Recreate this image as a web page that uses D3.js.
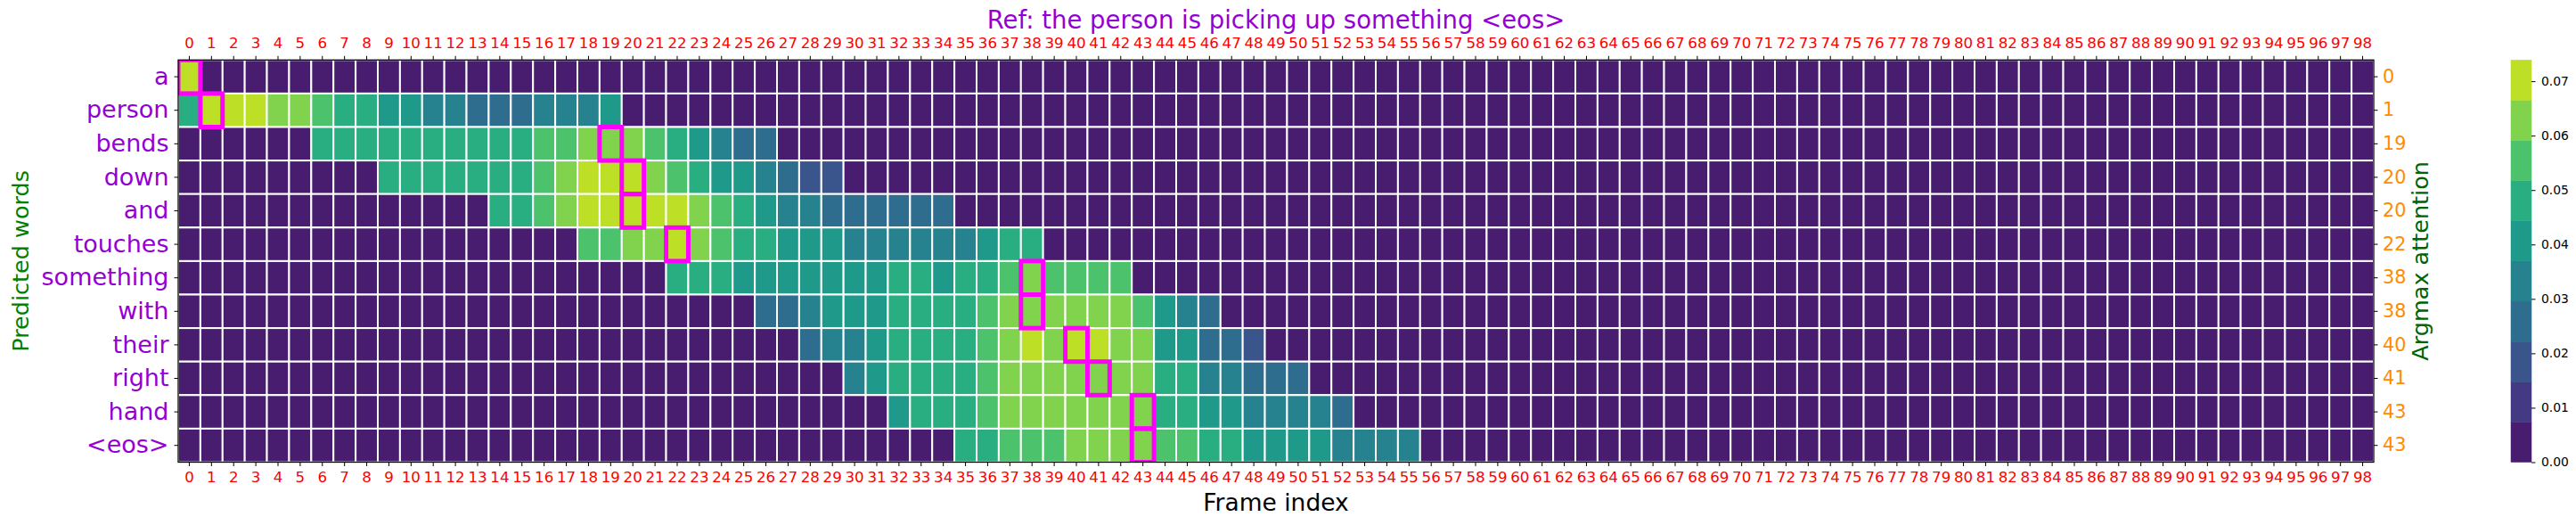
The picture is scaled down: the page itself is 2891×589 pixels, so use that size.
<!DOCTYPE html>
<html>
<head>
<meta charset="utf-8">
<script src="https://cdn.jsdelivr.net/npm/d3@7"></script>
<style>
  body { margin: 0; background: #fff; }
  svg { display: block; font-family: 'DejaVu Sans', sans-serif; }
</style>
</head>
<body>
<svg id="attention"></svg>
<script>
// values
const titleText = 'Ref: the person is picking up something <eos>';
const words = ['a', 'person', 'bends', 'down', 'and', 'touches', 'something', 'with', 'their', 'right', 'hand', '<eos>'];
const argmaxFrames = [0, 1, 19, 20, 20, 22, 38, 38, 40, 41, 43, 43];
const frames = d3.range(99);
// first frame of the visible attention band for each word, then the band values
const bandStart = [0, 0, 6, 9, 14, 18, 22, 26, 28, 30, 32, 35];
const attnA = [0.070];
const attnPerson = [0.048, 0.071, 0.070, 0.068, 0.062, 0.060, 0.054, 0.048, 0.046, 0.041, 0.039, 0.034, 0.032, 0.027, 0.025, 0.026, 0.031, 0.033, 0.034, 0.038];
const attnBends = [0.045, 0.046, 0.047, 0.047, 0.048, 0.048, 0.049, 0.049, 0.050, 0.051, 0.053, 0.057, 0.062, 0.065, 0.063, 0.056, 0.049, 0.041, 0.033, 0.027, 0.025];
const attnDown = [0.045, 0.046, 0.047, 0.047, 0.048, 0.049, 0.050, 0.055, 0.063, 0.068, 0.071, 0.073, 0.064, 0.056, 0.049, 0.042, 0.038, 0.034, 0.028, 0.021, 0.017];
const attnAnd = [0.046, 0.050, 0.055, 0.063, 0.068, 0.070, 0.072, 0.071, 0.069, 0.062, 0.054, 0.047, 0.040, 0.034, 0.031, 0.028, 0.027, 0.026, 0.026, 0.025, 0.024];
const attnTouches = [0.053, 0.057, 0.061, 0.064, 0.067, 0.063, 0.056, 0.050, 0.046, 0.043, 0.041, 0.039, 0.036, 0.035, 0.034, 0.033, 0.034, 0.035, 0.039, 0.045, 0.047];
const attnSomething = [0.046, 0.047, 0.045, 0.043, 0.042, 0.041, 0.041, 0.042, 0.042, 0.043, 0.045, 0.046, 0.043, 0.047, 0.050, 0.055, 0.060, 0.057, 0.055, 0.054, 0.053];
const attnWith = [0.024, 0.027, 0.033, 0.038, 0.041, 0.043, 0.045, 0.047, 0.048, 0.050, 0.055, 0.060, 0.064, 0.063, 0.062, 0.061, 0.060, 0.056, 0.042, 0.034, 0.027];
const attnTheir = [0.027, 0.031, 0.035, 0.040, 0.045, 0.047, 0.048, 0.049, 0.056, 0.062, 0.068, 0.065, 0.071, 0.069, 0.064, 0.061, 0.042, 0.038, 0.028, 0.025, 0.019];
const attnRight = [0.034, 0.040, 0.045, 0.046, 0.047, 0.049, 0.055, 0.060, 0.061, 0.062, 0.063, 0.065, 0.063, 0.061, 0.049, 0.046, 0.035, 0.032, 0.028, 0.026, 0.024];
const attnHand = [0.041, 0.045, 0.047, 0.049, 0.055, 0.060, 0.061, 0.062, 0.062, 0.063, 0.063, 0.065, 0.050, 0.046, 0.041, 0.038, 0.036, 0.034, 0.033, 0.031, 0.028];
const attnEos = [0.045, 0.048, 0.053, 0.055, 0.056, 0.060, 0.062, 0.063, 0.065, 0.058, 0.054, 0.050, 0.047, 0.042, 0.040, 0.039, 0.038, 0.036, 0.034, 0.033, 0.032];
const colorTicks = [0, 0.01, 0.02, 0.03, 0.04, 0.05, 0.06, 0.07];
const colorMax = 0.0739;

const bands = [attnA, attnPerson, attnBends, attnDown, attnAnd, attnTouches, attnSomething, attnWith, attnTheir, attnRight, attnHand, attnEos];

function drawAttention() {
    const width = 2891, height = 589;
    const plotLeft = 200, plotRight = 2664, plotTop = 67.3, plotBottom = 518.5;
    const cbLeft = 2818, cbRight = 2841;
    const levels = 10;
    const levelColors = d3.range(levels).map(i => d3.interpolateViridis(0.08 + i * 0.0911));

    const cells = [];
    bands.forEach((vals, r) => {
        frames.forEach(f => {
            const k = f - bandStart[r];
            cells.push({row: r, frame: f, value: (k >= 0 && k < vals.length) ? vals[k] : 0});
        });
    });

    const svg = d3.select('#attention').attr('width', width).attr('height', height);

    const x = d3.scaleBand().domain(frames).range([plotLeft, plotRight]);
    const y = d3.scaleBand().domain(d3.range(words.length)).range([plotTop, plotBottom]);
    const color = d3.scaleQuantize().domain([0, colorMax]).range(levelColors);

    svg.append('defs').append('clipPath').attr('id', 'plotClip')
        .append('rect').attr('x', plotLeft).attr('y', plotTop)
        .attr('width', plotRight - plotLeft).attr('height', plotBottom - plotTop);

    svg.append('g')
        .selectAll('rect')
        .data(cells)
        .enter()
        .append('rect')
        .attr('x', d => x(d.frame))
        .attr('y', d => y(d.row))
        .attr('width', x.bandwidth())
        .attr('height', y.bandwidth())
        .attr('fill', d => color(d.value))
        .attr('stroke', '#fff')
        .attr('stroke-width', 2);

    svg.append('g')
        .attr('clip-path', 'url(#plotClip)')
        .selectAll('rect')
        .data(argmaxFrames)
        .enter()
        .append('rect')
        .attr('x', d => x(d))
        .attr('y', (d, i) => y(i))
        .attr('width', x.bandwidth())
        .attr('height', y.bandwidth())
        .attr('fill', 'none')
        .attr('stroke', '#ff00ff')
        .attr('stroke-width', 5);

    svg.append('rect')
        .attr('x', plotLeft).attr('y', plotTop)
        .attr('width', plotRight - plotLeft).attr('height', plotBottom - plotTop)
        .attr('fill', 'none').attr('stroke', '#000').attr('stroke-width', 1.3);

    const styleAxis = (g, fill, size) => {
        g.attr('font-family', "'DejaVu Sans', sans-serif").attr('font-size', size);
        g.select('.domain').remove();
        g.selectAll('line').attr('stroke', '#000');
        g.selectAll('text').attr('fill', fill);
    };

    svg.append('g')
        .attr('transform', `translate(0, ${plotTop})`)
        .call(d3.axisTop(x).tickSize(4.5).tickPadding(8.5))
        .call(g => styleAxis(g, 'red', 16.7));

    svg.append('g')
        .attr('transform', `translate(0, ${plotBottom})`)
        .call(d3.axisBottom(x).tickSize(4.5).tickPadding(6))
        .call(g => styleAxis(g, 'red', 16.7));

    svg.append('g')
        .attr('transform', `translate(${plotLeft}, 0)`)
        .call(d3.axisLeft(y).tickSize(4.5).tickPadding(6).tickFormat(i => words[i]))
        .call(g => styleAxis(g, '#9400d3', 27));

    svg.append('g')
        .attr('transform', `translate(${plotRight}, 0)`)
        .call(d3.axisRight(y).tickSize(4.5).tickPadding(5.5).tickFormat(i => argmaxFrames[i]))
        .call(g => styleAxis(g, '#ff8c00', 20.8));

    // colorbar
    const cb = d3.scaleLinear().domain([0, colorMax]).range([plotBottom, plotTop]);
    const step = colorMax / levels;
    svg.append('g')
        .selectAll('rect')
        .data(levelColors)
        .enter()
        .append('rect')
        .attr('x', cbLeft)
        .attr('width', cbRight - cbLeft)
        .attr('y', (c, i) => cb((i + 1) * step))
        .attr('height', (c, i) => cb(i * step) - cb((i + 1) * step))
        .attr('fill', c => c)
        .attr('stroke', c => c)
        .attr('stroke-width', 0.5);

    svg.append('g')
        .attr('transform', `translate(${cbRight}, 0)`)
        .call(d3.axisRight(cb).tickValues(colorTicks).tickFormat(d3.format('.2f')).tickSize(4.5).tickPadding(6.5))
        .call(g => styleAxis(g, '#000', 13.9));

    // titles
    svg.append('text')
        .attr('x', (plotLeft + plotRight) / 2).attr('y', 32)
        .attr('text-anchor', 'middle')
        .attr('fill', '#9400d3')
        .style('font-size', '27.5px')
        .text(titleText);

    svg.append('text')
        .attr('x', (plotLeft + plotRight) / 2).attr('y', 573)
        .attr('text-anchor', 'middle')
        .attr('fill', '#000')
        .style('font-size', '26.5px')
        .text('Frame index');

    svg.append('text')
        .attr('transform', `translate(32, ${(plotTop + plotBottom) / 2}) rotate(-90)`)
        .attr('text-anchor', 'middle')
        .attr('fill', 'green')
        .style('font-size', '25.5px')
        .text('Predicted words');

    svg.append('text')
        .attr('transform', `translate(2725, ${(plotTop + plotBottom) / 2}) rotate(-90)`)
        .attr('text-anchor', 'middle')
        .attr('fill', '#006400')
        .style('font-size', '25.5px')
        .text('Argmax attention');
}

drawAttention();
</script>
</body>
</html>
